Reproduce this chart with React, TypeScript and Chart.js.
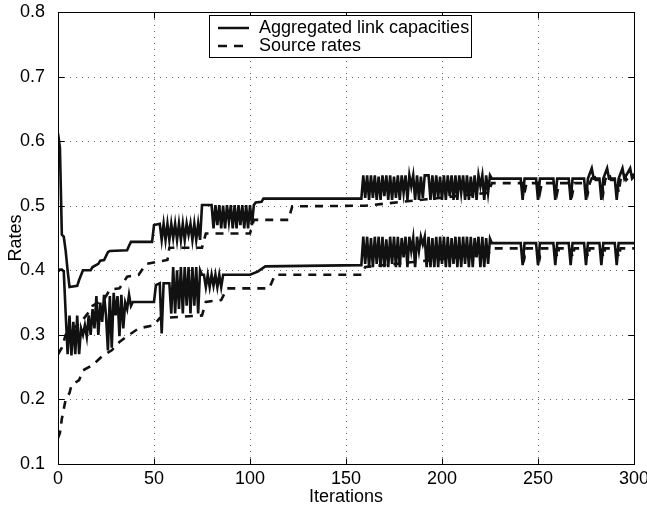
import React, { useEffect, useRef } from "react";
import { Chart, registerables } from "chart.js";

Chart.register(...registerables);

const FONT = '"Liberation Sans", Arial, Helvetica, sans-serif';

const xTicks = [0, 50, 100, 150, 200, 250, 300];
const yTicks = [0.1, 0.2, 0.3, 0.4, 0.5, 0.6, 0.7, 0.8];
const legendLabels = ["Aggregated link capacities", "Source rates"];
const xTitle = "Iterations";
const yTitle = "Rates";

// [iteration, rate]
const capacityUpper: [number, number][] = [
  [0, 0.612], [1, 0.59], [2, 0.455], [3, 0.452], [4, 0.43], [5, 0.4], [6, 0.374], [10, 0.376], [11, 0.385], [13, 0.4],
  [17, 0.4], [18, 0.405], [21, 0.41], [22, 0.415], [24, 0.416], [26, 0.428], [27, 0.43], [36, 0.431], [37, 0.438], [38, 0.444],
  [49, 0.444], [50, 0.47], [53, 0.472], [54, 0.447], [55, 0.472], [56, 0.447], [57, 0.472], [58, 0.447], [59, 0.472], [60, 0.45],
  [61, 0.472], [62, 0.447], [63, 0.472], [64, 0.447], [65, 0.472], [66, 0.447], [67, 0.472], [68, 0.455], [69, 0.472], [70, 0.447],
  [71, 0.472], [72, 0.447], [73, 0.472], [74, 0.447], [75, 0.501], [80, 0.501], [81, 0.465], [82, 0.501], [83, 0.47], [84, 0.501],
  [85, 0.465], [86, 0.5], [87, 0.465], [88, 0.501], [89, 0.475], [90, 0.501], [91, 0.465], [92, 0.501], [93, 0.465], [94, 0.501],
  [95, 0.47], [96, 0.501], [97, 0.465], [98, 0.501], [99, 0.465], [100, 0.501], [101, 0.47], [102, 0.501], [103, 0.505], [106, 0.506],
  [107, 0.511], [158, 0.511],
  [159, 0.547], [160, 0.512], [161, 0.547], [162, 0.509], [163, 0.547], [164, 0.512], [165, 0.547], [166, 0.509], [167, 0.545], [168, 0.509],
  [169, 0.547], [170, 0.515], [171, 0.547], [172, 0.509], [173, 0.547], [174, 0.509], [175, 0.545], [176, 0.512], [177, 0.547], [178, 0.509],
  [179, 0.547], [180, 0.52], [181, 0.547], [182, 0.509], [183, 0.547], [184, 0.53], [185, 0.547], [186, 0.509], [187, 0.547], [188, 0.509],
  [189, 0.545], [190, 0.512], [191, 0.547], [192, 0.547], [193, 0.547], [194, 0.509], [195, 0.547], [196, 0.509], [197, 0.547], [198, 0.512],
  [199, 0.545], [200, 0.509], [201, 0.547], [202, 0.509], [203, 0.547], [204, 0.515], [205, 0.547], [206, 0.509], [207, 0.547], [208, 0.509],
  [209, 0.547], [210, 0.52], [211, 0.547], [212, 0.509], [213, 0.547], [214, 0.509], [215, 0.545], [216, 0.512], [217, 0.547], [218, 0.509],
  [219, 0.547], [220, 0.53], [221, 0.547], [222, 0.509], [223, 0.547], [224, 0.52], [225, 0.547], [226, 0.542],
  [241, 0.542], [242, 0.509], [243, 0.542], [249, 0.542], [250, 0.509], [251, 0.542], [258, 0.542], [259, 0.509], [260, 0.542],
  [266, 0.542], [267, 0.509], [268, 0.542], [274, 0.542], [275, 0.509], [276, 0.542], [278, 0.558], [279, 0.542], [282, 0.542],
  [283, 0.509], [284, 0.542], [286, 0.558], [287, 0.542], [290, 0.542], [291, 0.509], [292, 0.542], [294, 0.558], [295, 0.542],
  [298, 0.558], [299, 0.542], [300, 0.545],
];

const capacityLower: [number, number][] = [
  [0, 0.398], [1, 0.401], [2, 0.401], [3, 0.398], [4, 0.333], [5, 0.27], [6, 0.33], [7, 0.268], [8, 0.32], [9, 0.27],
  [10, 0.33], [11, 0.27], [12, 0.31], [13, 0.3], [14, 0.315], [15, 0.297], [16, 0.33], [17, 0.3], [18, 0.34], [19, 0.31],
  [20, 0.36], [21, 0.3], [22, 0.35], [23, 0.32], [24, 0.362], [25, 0.33], [26, 0.276], [27, 0.36], [28, 0.28], [29, 0.365],
  [30, 0.33], [31, 0.36], [32, 0.298], [33, 0.362], [34, 0.31], [35, 0.35], [36, 0.34], [37, 0.362], [38, 0.345], [39, 0.351],
  [50, 0.351], [51, 0.377], [53, 0.38], [54, 0.302], [55, 0.38], [58, 0.38], [59, 0.333], [60, 0.405], [61, 0.333], [62, 0.4],
  [63, 0.34], [64, 0.405], [65, 0.333], [66, 0.405], [67, 0.345], [68, 0.405], [69, 0.333], [70, 0.405], [71, 0.345], [72, 0.405],
  [73, 0.333], [74, 0.4], [75, 0.393], [76, 0.393], [77, 0.374], [78, 0.393], [79, 0.374], [80, 0.393], [81, 0.376], [82, 0.393],
  [83, 0.374], [84, 0.393], [85, 0.374], [86, 0.393], [100, 0.393], [104, 0.398], [108, 0.406], [158, 0.408],
  [159, 0.452], [160, 0.41], [161, 0.452], [162, 0.405], [163, 0.45], [164, 0.405], [165, 0.452], [166, 0.41], [167, 0.452], [168, 0.405],
  [169, 0.452], [170, 0.405], [171, 0.448], [172, 0.405], [173, 0.452], [174, 0.41], [175, 0.452], [176, 0.405], [177, 0.452], [178, 0.405],
  [179, 0.45], [180, 0.42], [181, 0.452], [182, 0.405], [183, 0.452], [184, 0.43], [185, 0.45], [186, 0.405], [187, 0.452], [188, 0.43],
  [189, 0.452], [190, 0.44], [191, 0.452], [192, 0.405], [193, 0.452], [194, 0.405], [195, 0.45], [196, 0.405], [197, 0.452], [198, 0.405],
  [199, 0.452], [200, 0.41], [201, 0.452], [202, 0.405], [203, 0.452], [204, 0.405], [205, 0.45], [206, 0.41], [207, 0.452], [208, 0.405],
  [209, 0.452], [210, 0.405], [211, 0.452], [212, 0.41], [213, 0.452], [214, 0.405], [215, 0.452], [216, 0.405], [217, 0.45], [218, 0.42],
  [219, 0.452], [220, 0.405], [221, 0.452], [222, 0.405], [223, 0.45], [224, 0.41], [225, 0.449], [226, 0.442],
  [241, 0.442], [242, 0.408], [243, 0.442], [249, 0.442], [250, 0.408], [251, 0.442], [258, 0.442], [259, 0.408], [260, 0.442],
  [266, 0.442], [267, 0.408], [268, 0.442], [274, 0.442], [275, 0.408], [276, 0.442], [282, 0.442], [283, 0.408], [284, 0.442],
  [290, 0.442], [291, 0.408], [292, 0.442], [300, 0.442],
];

const sourceUpper: [number, number][] = [
  [0, 0.27], [2, 0.28], [4, 0.3], [8, 0.31], [12, 0.32], [16, 0.335], [18, 0.345], [24, 0.355], [27, 0.37], [32, 0.372],
  [36, 0.39], [42, 0.393], [46, 0.41], [57, 0.416], [58, 0.435], [75, 0.435], [77, 0.457], [100, 0.457], [102, 0.478], [120, 0.478],
  [122, 0.499], [160, 0.5], [192, 0.51], [224, 0.52], [226, 0.535], [242, 0.535], [243, 0.52], [244, 0.535], [250, 0.535], [251, 0.52],
  [252, 0.535], [259, 0.535], [260, 0.52], [261, 0.535], [267, 0.535], [268, 0.52], [269, 0.535], [275, 0.535], [276, 0.52], [277, 0.535],
  [279, 0.55], [280, 0.54], [283, 0.54], [284, 0.52], [285, 0.54], [287, 0.55], [288, 0.54], [291, 0.54], [292, 0.52], [293, 0.54],
  [295, 0.55], [296, 0.54], [299, 0.55], [300, 0.545],
];

const sourceLower: [number, number][] = [
  [0, 0.14], [1, 0.148], [2, 0.17], [3, 0.185], [4, 0.2], [6, 0.21], [7, 0.222], [11, 0.23], [13, 0.245], [18, 0.253],
  [23, 0.267], [28, 0.276], [32, 0.289], [37, 0.3], [42, 0.31], [50, 0.315], [53, 0.326], [75, 0.33], [77, 0.351], [85, 0.354],
  [88, 0.372], [110, 0.372], [113, 0.393], [158, 0.393], [160, 0.405], [192, 0.415], [224, 0.425], [226, 0.434], [242, 0.434], [243, 0.42],
  [244, 0.434], [250, 0.434], [251, 0.42], [252, 0.434], [259, 0.434], [260, 0.42], [261, 0.434], [267, 0.434], [268, 0.42], [269, 0.434],
  [275, 0.434], [276, 0.42], [277, 0.434], [283, 0.434], [284, 0.42], [285, 0.434], [291, 0.434], [292, 0.42], [293, 0.434], [300, 0.434],
];

const toPoints = (arr: [number, number][]) => arr.map(([x, y]) => ({ x, y }));

const LINE_COLOR = "#111";
const DASH = [8, 7];
const FS = 18;

const matlabPlugin = {
  id: "matlabFrame",
  beforeDatasetsDraw(chart: any) {
    const { ctx, chartArea: a, scales } = chart;
    const x = scales.x;
    const y = scales.y;
    ctx.save();
    ctx.strokeStyle = "#666";
    ctx.lineWidth = 1;
    ctx.setLineDash([1, 5]);
    for (const t of xTicks) {
      const px = Math.round(x.getPixelForValue(t)) + 0.5;
      ctx.beginPath();
      ctx.moveTo(px, a.bottom);
      ctx.lineTo(px, a.top);
      ctx.stroke();
    }
    for (const t of yTicks) {
      const py = Math.round(y.getPixelForValue(t)) + 0.5;
      ctx.beginPath();
      ctx.moveTo(a.left, py);
      ctx.lineTo(a.right, py);
      ctx.stroke();
    }
    ctx.restore();
  },
  afterDatasetsDraw(chart: any) {
    const { ctx, chartArea: a, scales } = chart;
    const x = scales.x;
    const y = scales.y;
    const L = Math.round(a.left) + 0.5;
    const R = Math.round(a.right) + 0.5;
    const T = Math.round(a.top) + 0.5;
    const B = Math.round(a.bottom) + 0.5;
    ctx.save();
    ctx.setLineDash([]);
    ctx.strokeStyle = "#000";
    ctx.lineWidth = 1;
    ctx.strokeRect(L, T, R - L, B - T);
    const tl = 6;
    for (const t of xTicks) {
      const px = Math.round(x.getPixelForValue(t)) + 0.5;
      ctx.beginPath();
      ctx.moveTo(px, B);
      ctx.lineTo(px, B - tl);
      ctx.moveTo(px, T);
      ctx.lineTo(px, T + tl);
      ctx.stroke();
    }
    for (const t of yTicks) {
      const py = Math.round(y.getPixelForValue(t)) + 0.5;
      ctx.beginPath();
      ctx.moveTo(L, py);
      ctx.lineTo(L + tl, py);
      ctx.moveTo(R, py);
      ctx.lineTo(R - tl, py);
      ctx.stroke();
    }

    // y tick labels from the y scale's ticks
    ctx.font = `${FS}px ${FONT}`;
    ctx.fillStyle = "#000";
    ctx.textAlign = "right";
    ctx.textBaseline = "middle";
    for (const tk of y.ticks) {
      const py = y.getPixelForValue(tk.value);
      ctx.fillText(Number(tk.value).toFixed(1), a.left - 13, py);
    }

    // legend box
    const bx = 209.5, by = 15.5, bw = 262, bh = 42;
    ctx.fillStyle = "#fff";
    ctx.fillRect(bx, by, bw, bh);
    ctx.strokeRect(bx, by, bw, bh);
    const rows = [28, 46];
    ctx.textBaseline = "middle";
    ctx.textAlign = "left";
    ctx.fillStyle = "#000";
    legendLabels.forEach((label, i) => {
      ctx.save();
      ctx.strokeStyle = LINE_COLOR;
      ctx.lineWidth = 2.5;
      ctx.setLineDash(i === 0 ? [] : [9, 7]);
      ctx.beginPath();
      ctx.moveTo(218, rows[i]);
      ctx.lineTo(249, rows[i]);
      ctx.stroke();
      ctx.restore();
      ctx.fillText(label, 259, rows[i]);
    });
    ctx.restore();
  },
};

export default function App() {
  const ref = useRef<HTMLCanvasElement>(null);
  useEffect(() => {
    document.body.style.margin = "0";
    const canvas = ref.current;
    if (!canvas) return;
    const ds = (data: [number, number][], dashed: boolean, label: string) => ({
      label,
      data: toPoints(data),
      borderColor: LINE_COLOR,
      borderWidth: 2.6,
      borderDash: dashed ? DASH : [],
      pointRadius: 0,
      fill: false,
      tension: 0,
      borderJoinStyle: "miter" as const,
    });
    const chart = new Chart(canvas, {
      type: "line",
      data: {
        datasets: [
          ds(capacityUpper, false, legendLabels[0]),
          ds(capacityLower, false, legendLabels[0]),
          ds(sourceUpper, true, legendLabels[1]),
          ds(sourceLower, true, legendLabels[1]),
        ],
      },
      options: {
        responsive: false,
        animation: false,
        devicePixelRatio: 1,
        layout: { padding: { left: 0, right: 13, top: 12, bottom: 0 } },
        plugins: { legend: { display: false }, tooltip: { enabled: false } },
        scales: {
          x: {
            type: "linear",
            min: 0,
            max: 300,
            grid: { display: false, drawTicks: false },
            border: { display: false },
            ticks: {
              stepSize: 50,
              color: "#000",
              font: { size: FS, family: FONT },
              padding: 4,
              maxRotation: 0,
            },
            title: {
              display: true,
              text: xTitle,
              color: "#000",
              font: { size: FS, family: FONT },
              padding: { top: 0, bottom: 4 },
            },
            afterFit(s: any) {
              s.height = 48;
              s.paddingLeft = 0;
              s.paddingRight = 0;
            },
          },
          y: {
            type: "linear",
            min: 0.1,
            max: 0.8,
            grid: { display: false, drawTicks: false },
            border: { display: false },
            ticks: {
              stepSize: 0.1,
              display: false,
            },
            title: {
              display: true,
              text: yTitle,
              color: "#000",
              font: { size: FS, family: FONT },
              padding: { top: 5, bottom: 0 },
            },
            afterFit(s: any) {
              s.width = 58;
              s.paddingTop = 0;
              s.paddingBottom = 0;
            },
          },
        },
      },
      plugins: [matlabPlugin],
    });
    return () => chart.destroy();
  }, []);
  return (
    <div style={{ width: 647, height: 512 }}>
      <canvas ref={ref} width={647} height={512} style={{ display: "block" }} />
    </div>
  );
}
